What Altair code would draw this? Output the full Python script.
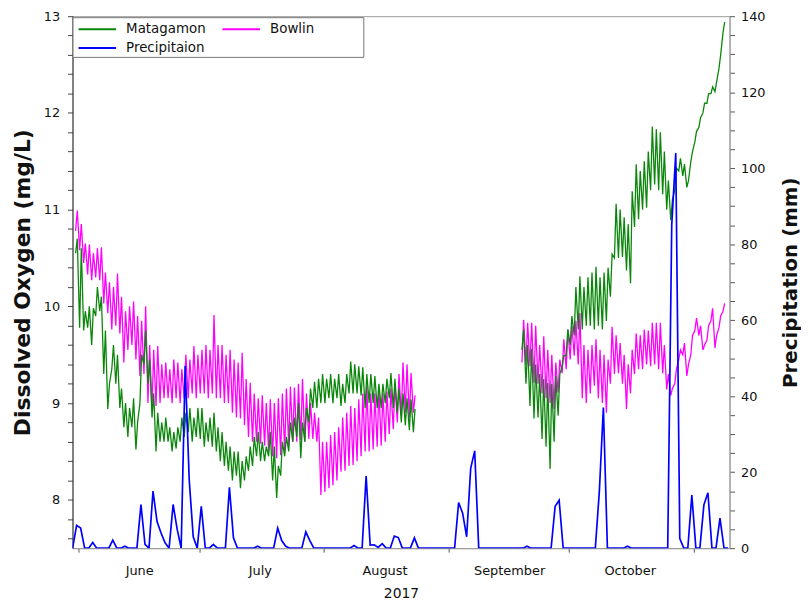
import altair as alt
import pandas as pd

# ---------------- data ----------------
series_names = ["Matagamon", "Bowlin", "Precipitaion"]
series_colors = ["#0a870a", "#ff00ff", "#0000ff"]
month_names = ["June", "July", "August", "September", "October"]

# daily precipitation (mm), first value is 2017-05-30
precip_first_day = -2  # days after 2017-06-01
precip = [0, 6, 5.3, 0, 0, 1.5, 0, 0, 0, 0, 2.1, 0, 0, 0.5, 0, 0, 0, 11.5, 1, 0,
          15, 7, 4, 1.4, 0, 11.5, 5, 0, 48, 18, 3, 0, 11, 0, 0, 1, 0, 0, 0, 16,
          2.7, 0, 0, 0, 0, 0, 0.5, 0, 0, 0, 0, 5.3, 2, 0.5, 0, 0, 0, 0, 4.3, 2,
          0, 0, 0, 0, 0, 0, 0, 0, 0, 0, 0.7, 0, 0, 19, 0.8, 0.9, 0.2, 1.2, 0, 0,
          3.2, 2.8, 0, 0, 0, 2.7, 0, 0, 0, 0, 0, 0, 0, 0, 0, 0, 12, 9.2, 3, 21,
          25.6, 0, 0, 0, 0, 0, 0, 0, 0, 0, 0, 0, 0, 0.5, 0, 0, 0, 0, 0, 0,
          11, 12.6, 0, 0, 0, 0, 0, 0, 0, 0, 0, 15, 37, 0, 0, 0, 0, 0, 0.5, 0,
          0, 0, 0, 0, 0, 0, 0, 0, 0, 85, 104, 2.5, 0, 0, 14, 0, 0, 11.4, 14.6, 0,
          0, 7.9, 0, 0]

# dissolved oxygen: daily high / low, first part starts 2017-05-31
do_early_first_day = -1
mat_early_hi = [10.70, 10.6, 9.95, 10.0, 9.98, 10.2, 10.1, 9.75, 9.2, 9.6, 9.5, 9.15, 9.0, 8.95,
                9.05, 8.8, 9.5, 9.75, 9.45, 9.1, 8.9, 8.8, 8.85, 8.75, 8.7, 8.75, 8.85, 8.9,
                8.95, 8.85, 8.95, 8.95, 8.8, 8.85, 8.9, 8.75, 8.7, 8.6, 8.55, 8.5, 8.5, 8.4,
                8.45, 8.55, 8.65, 8.7, 8.6, 8.55, 8.7, 8.55, 8.35, 8.6, 8.65, 8.8, 8.85, 9.0,
                8.8, 8.95, 9.15, 9.22, 9.25, 9.3, 9.25, 9.3, 9.25, 9.3, 9.2, 9.3, 9.43, 9.4,
                9.38, 9.37, 9.3, 9.3, 9.28, 9.2, 9.2, 9.25, 9.31, 9.25, 9.15, 9.1, 9.05, 9.04,
                8.94]
mat_early_lo = [10.55, 9.78, 9.75, 9.78, 9.6, 9.9, 9.95, 9.3, 8.94, 9.35, 9.2, 8.95, 8.75, 8.65,
                8.75, 8.52, 9.0, 9.4, 9.2, 8.85, 8.5, 8.6, 8.6, 8.6, 8.5, 8.53, 8.6, 8.65,
                8.7, 8.6, 8.65, 8.63, 8.55, 8.6, 8.55, 8.5, 8.4, 8.35, 8.3, 8.2, 8.25, 8.12,
                8.2, 8.3, 8.35, 8.45, 8.4, 8.4, 8.45, 8.2, 8.02, 8.25, 8.45, 8.5, 8.6, 8.65,
                8.43, 8.6, 8.8, 8.95, 8.95, 9.0, 9.0, 9.05, 9.0, 9.05, 8.97, 9.0, 9.1, 9.1,
                9.1, 9.08, 8.95, 9.0, 9.0, 8.95, 8.95, 9.0, 9.05, 8.95, 8.9, 8.8, 8.77, 8.72,
                8.70]
bow_early_hi = [10.99, 10.85, 10.65, 10.64, 10.55, 10.6, 10.61, 10.35, 10.25, 10.2, 10.34, 10.1,
                9.95, 10.0, 10.05, 9.9, 9.85, 10.0, 9.6, 9.55, 9.59, 9.4, 9.42, 9.35, 9.45,
                9.42, 9.35, 9.5, 9.45, 9.59, 9.5, 9.55, 9.6, 9.55, 9.91, 9.6, 9.6, 9.5, 9.55,
                9.45, 9.42, 9.52, 9.25, 9.21, 9.1, 9.05, 9.08, 9.0, 9.04, 9.0, 9.05, 9.1, 9.15,
                9.17, 9.16, 9.2, 9.25, 9.1, 9.0, 8.9, 8.85, 8.6, 8.6, 8.67, 8.7, 8.75, 8.85,
                8.9, 8.97, 8.95, 9.04, 9.1, 9.18, 9.1, 9.1, 9.15, 9.1, 9.12, 9.15, 9.2, 9.3,
                9.42, 9.4, 9.31, 9.08]
bow_early_lo = [10.78, 10.58, 10.45, 10.33, 10.27, 10.3, 10.27, 10.03, 9.93, 9.76, 9.8, 9.72,
                9.42, 9.55, 9.6, 9.45, 9.28, 9.3, 9.0, 8.94, 8.97, 9.0, 9.05, 9.05, 9.0, 9.05,
                9.0, 9.05, 9.05, 9.1, 9.05, 9.1, 9.1, 9.05, 9.1, 9.05, 9.05, 9.0, 9.0, 8.9,
                8.85, 8.84, 8.77, 8.65, 8.6, 8.6, 8.58, 8.56, 8.5, 8.45, 8.43, 8.46, 8.5, 8.56,
                8.6, 8.6, 8.62, 8.6, 8.63, 8.63, 8.6, 8.05, 8.08, 8.12, 8.15, 8.2, 8.29, 8.3,
                8.35, 8.36, 8.4, 8.45, 8.5, 8.5, 8.52, 8.55, 8.56, 8.6, 8.68, 8.73, 8.8, 8.87,
                8.9, 8.85, 8.9]

# second part starts 2017-09-19
do_late_first_day = 110
mat_late_hi = [9.76, 9.6, 9.56, 9.4, 9.3, 9.25, 9.21, 9.2, 9.28, 9.3, 9.49, 9.76, 9.9, 10.2,
               10.31, 10.2, 10.3, 10.35, 10.41, 10.3, 10.35, 10.4, 10.54, 11.06, 11.0, 10.92,
               10.85, 11.19, 11.47, 11.4, 11.5, 11.6, 11.86, 11.83, 11.8, 11.6, 11.3, 11.1,
               11.43, 11.53, 11.47, 11.3, 11.6, 11.81, 11.95, 12.1, 12.2, 12.27, 12.32, 12.6,
               12.94]
mat_late_lo = [9.55, 9.2, 8.97, 8.84, 8.85, 8.63, 8.55, 8.32, 8.6, 8.87, 9.38, 9.49, 9.6, 9.7,
               9.76, 9.76, 9.8, 9.8, 9.76, 9.8, 9.76, 9.85, 10.1, 10.5, 10.5, 10.51, 10.37,
               10.24, 10.82, 10.9, 11.0, 11.02, 11.2, 11.26, 11.2, 11.16, 11.0, 10.89, 11.2,
               11.4, 11.35, 11.23, 11.5, 11.7, 11.85, 12.0, 12.1, 12.2, 12.22, 12.46, 12.83]
bow_late_hi = [9.86, 9.83, 9.83, 9.8, 9.6, 9.69, 9.55, 9.5, 9.42, 9.45, 9.66, 9.76, 9.8, 9.85,
               9.93, 9.6, 9.55, 9.6, 9.66, 9.55, 9.5, 9.45, 9.79, 9.7, 9.62, 9.5, 9.4, 9.55,
               9.72, 9.7, 9.76, 9.75, 9.83, 9.83, 9.83, 9.6, 9.3, 9.15, 9.35, 9.55, 9.62, 9.4,
               9.7, 9.88, 9.8, 9.6, 9.8, 9.98, 9.7, 9.9, 10.03]
bow_late_lo = [9.42, 9.4, 9.38, 9.21, 9.2, 9.1, 9.05, 9.0, 8.94, 9.11, 9.31, 9.35, 9.45, 9.49,
               9.4, 9.05, 9.0, 9.1, 9.18, 9.05, 9.0, 8.9, 9.2, 9.3, 9.31, 9.2, 8.94, 9.1, 9.3,
               9.35, 9.35, 9.4, 9.38, 9.4, 9.35, 9.31, 9.14, 9.08, 9.2, 9.45, 9.5, 9.28, 9.5,
               9.75, 9.7, 9.55, 9.65, 9.85, 9.57, 9.78, 9.95]

# ---------------- tables ----------------
base = pd.Timestamp("2017-06-01")


def stamp(day, hour):
    return (base + pd.Timedelta(days=day, hours=hour)).strftime("%Y-%m-%dT%H:%M:%S")


do_rows = []


def add_do(name, seg, first_day, lo, hi):
    for i, (l, h) in enumerate(zip(lo, hi)):
        d = first_day + i
        do_rows.append({"t": stamp(d, 6), "v": l, "series": name, "seg": seg})
        do_rows.append({"t": stamp(d, 16), "v": h, "series": name, "seg": seg})


add_do("Matagamon", "a", do_early_first_day, mat_early_lo, mat_early_hi)
add_do("Matagamon", "b", do_late_first_day, mat_late_lo, mat_late_hi)
add_do("Bowlin", "a", do_early_first_day, bow_early_lo, bow_early_hi)
add_do("Bowlin", "b", do_late_first_day, bow_late_lo, bow_late_hi)
do_df = pd.DataFrame(do_rows)

pr_df = pd.DataFrame({
    "t": [stamp(precip_first_day + i, 12) for i in range(len(precip))],
    "p": precip,
    "series": "Precipitaion",
})

# ---------------- chart ----------------
FONT = "DejaVu Sans"
# invisible trailing filler (kept by trim thanks to the zero-width end char) widens the legend box
LEGEND_FILL = "\u00a0" * 11 + "\u200b"

x_enc = alt.X(
    "t:T",
    scale=alt.Scale(domain=[alt.DateTime(year=2017, month=5, date=30, hours=11, minutes=30),
                            alt.DateTime(year=2017, month=11, date=9, hours=21)]),
    axis=alt.Axis(
        values=[alt.DateTime(year=2017, month=m, date=1) for m in range(6, 12)],
        labelExpr="month(datum.value) == 10 ? '' : timeFormat(datum.value, '%B')",
        labelOffset=61, labelPadding=13, tickSize=4, grid=False,
        title="2017", titlePadding=9,
        domainColor="#9a9a9a", tickColor="#555",
    ),
)

color_enc = alt.Color(
    "series:N",
    scale=alt.Scale(domain=series_names, range=series_colors),
    legend=alt.Legend(
        title=None, orient="none", legendX=0, legendY=1, columns=2, direction="horizontal",
        symbolType="M-2.1,0H2.1", symbolSize=324, symbolStrokeWidth=2, symbolOffset=13,
        labelFontSize=13.5, labelFont=FONT, labelColor="#111", labelOffset=19,
        labelExpr="datum.label == 'Bowlin' ? 'Bowlin" + LEGEND_FILL + "' : datum.label",
        strokeColor="#777", fillColor="white", padding=2,
        gridAlign="each", columnPadding=12, rowPadding=2,
    ),
)

y_do = alt.Y(
    "v:Q",
    scale=alt.Scale(domain=[7.5, 13], nice=False, zero=False),
    axis=alt.Axis(
        orient="left", title="Dissolved Oxygen (mg/L)",
        values=[round(7.6 + 0.2 * i, 1) for i in range(28)],
        labelExpr="datum.value % 1 == 0 ? format(datum.value, 'd') : ''",
        grid=False, tickSize=5, labelPadding=8, titlePadding=9, titleFontSize=22,
        domainColor="#333", tickColor="#444",
    ),
)

y_pr = alt.Y(
    "p:Q",
    scale=alt.Scale(domain=[0, 140], nice=False),
    axis=alt.Axis(
        orient="right", title="Precipitation (mm)",
        values=list(range(0, 141, 5)),
        labelExpr="datum.value % 20 == 0 ? datum.label : ''",
        grid=False, tickSize=5, labelPadding=6, titlePadding=36, titleAngle=270,
        titleFontSize=20,
        domainColor="#9a9a9a", tickColor="#555",
    ),
)

bow = alt.Chart(do_df).transform_filter(alt.datum.series == "Bowlin").mark_line(
    strokeWidth=1.3, clip=True).encode(x=x_enc, y=y_do, color=color_enc, detail="seg:N")
mat = alt.Chart(do_df).transform_filter(alt.datum.series == "Matagamon").mark_line(
    strokeWidth=1.3, clip=True).encode(x=x_enc, y=y_do, color=color_enc, detail="seg:N")
pr = alt.Chart(pr_df).mark_line(strokeWidth=1.7, clip=True).encode(
    x=x_enc, y=y_pr, color=color_enc)

chart = alt.layer(alt.layer(bow, mat), pr).resolve_scale(y="independent").properties(
    width=662, height=536,
    padding={"left": 3, "top": 0, "right": 0, "bottom": 2},
).configure_view(stroke="#9a9a9a").configure_axis(
    labelFont=FONT, labelFontSize=13, labelColor="#111",
    titleFont=FONT, titleFontSize=18, titleFontWeight="bold", titleColor="#111",
).configure_axisX(titleFontWeight="normal", titleFontSize=14)

chart.save("out.html", embed_options={"renderer": "svg", "actions": False})
